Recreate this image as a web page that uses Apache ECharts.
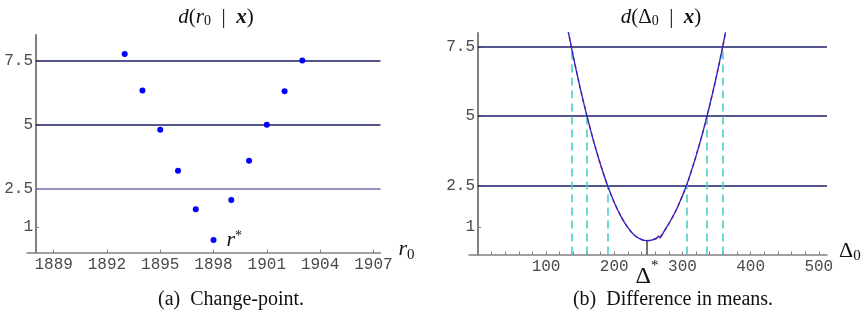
<!DOCTYPE html>
<html><head><meta charset="utf-8">
<script src="https://cdn.jsdelivr.net/npm/echarts@6/dist/echarts.min.js"></script>
<style>html,body{margin:0;padding:0;background:#fff}#c{width:868px;height:314px}</style>
</head><body><div id="c"></div>
<script>
// ---- Left panel data: change-point discrepancy
const years = [1893, 1894, 1895, 1896, 1897, 1898, 1899, 1900, 1901, 1902, 1903];
const changePointValues = [7.76, 6.33, 4.80, 3.20, 1.70, 0.50, 2.06, 3.59, 5.00, 6.30, 7.50];
const rStarYear = 1898;
const yearTicks = [1889, 1892, 1895, 1898, 1901, 1904, 1907];
const valueTicks = [1, 2.5, 5, 7.5];
const levelLines = [2.5, 5, 7.5];

// ---- Right panel data: difference in means
const deltaX = [130, 133, 140, 150, 160, 170, 180, 190, 200, 210, 220, 230, 240, 248, 255, 262, 265, 267, 270, 275, 280, 290, 300, 306, 310, 320, 330, 336, 340, 350, 359, 363, 366];
const deltaBlue = [8.35, 8.0, 7.15, 6.02, 5.0, 4.07, 3.24, 2.5, 1.88, 1.37, 0.97, 0.69, 0.54, 0.50, 0.52, 0.59, 0.66, 0.60, 0.70, 0.92, 1.11, 1.56, 2.12, 2.5, 2.78, 3.56, 4.42, 5.0, 5.39, 6.45, 7.5, 8.0, 8.35];
const deltaRed  = [8.35, 8.0, 7.15, 6.02, 5.0, 4.07, 3.24, 2.5, 1.88, 1.37, 0.97, 0.69, 0.54, 0.50, 0.52, 0.58, 0.62, 0.65, 0.72, 0.90, 1.11, 1.56, 2.12, 2.5, 2.78, 3.56, 4.42, 5.0, 5.39, 6.45, 7.5, 8.0, 8.35];
const deltaStar = 248;
const deltaStarValue = 0.5;
const intervalX = [137, 160, 190, 306, 336, 359];
const intervalLevel = [7.5, 5, 2.5, 2.5, 5, 7.5];
const deltaLabelTicks = [100, 200, 248, 300, 400, 500];
const deltaMinorTicks = [20, 40, 60, 80, 100, 120, 140, 160, 180, 200, 220, 240, 260, 280, 300, 320, 340, 360, 380, 400, 420, 440, 460, 480, 500];

const MONO = 'Liberation Mono';
const SERIF = 'Liberation Serif';
const TXT = '#4a4a4a';
const AXIS = '#808080';
const NAVY = '#1e1e6a';

const chart = echarts.init(document.getElementById('c'), null, {renderer: 'canvas'});

function levelMarkLine(xMin, xMax, colors) {
  return {
    silent: true, symbol: 'none', animation: false,
    label: {show: false},
    data: levelLines.map((v, i) => [
      {coord: [xMin, v], lineStyle: {color: colors[i], width: 1.5, type: 'solid'}},
      {coord: [xMax, v]}
    ])
  };
}

const titleRich = {
  i: {fontFamily: SERIF, fontStyle: 'italic', fontWeight: 'normal', fontSize: 21, color: '#111'},
  n: {fontFamily: SERIF, fontWeight: 'normal', fontSize: 21, color: '#111'},
  b: {fontFamily: SERIF, fontStyle: 'italic', fontWeight: 'bold', fontSize: 21, color: '#111'},
  sub: {fontFamily: SERIF, fontWeight: 'normal', fontSize: 14, color: '#111', verticalAlign: 'bottom', padding: [6, 0, 0, 0]}
};
const captionStyle = {fontFamily: SERIF, fontSize: 20, fontWeight: 'normal', color: '#111'};
const nameRich = {
  i: {fontFamily: SERIF, fontStyle: 'italic', fontWeight: 'normal', fontSize: 22, color: '#111'},
  n: {fontFamily: SERIF, fontWeight: 'normal', fontSize: 22, color: '#111'},
  sub: {fontFamily: SERIF, fontWeight: 'normal', fontSize: 15, color: '#111', verticalAlign: 'bottom', padding: [10, 0, 0, 0]}
};

const option = {
  animation: false,
  backgroundColor: '#fff',
  title: [
    {text: '{i|d}{n|(}{i|r}{sub|0}{n|  |  }{b|x}{n|)}', left: 211, top: 2, textAlign: 'center', textStyle: {fontWeight: 'normal', rich: titleRich}},
    {text: '{i|d}{n|(Δ}{sub|0}{n|  |  }{b|x}{n|)}', left: 656, top: 2, textAlign: 'center', textStyle: {fontWeight: 'normal', rich: titleRich}},
    {text: '(a)  Change-point.', left: 226, top: 285, textAlign: 'center', textStyle: captionStyle},
    {text: '(b)  Difference in means.', left: 668, top: 285, textAlign: 'center', textStyle: captionStyle}
  ],
  grid: [
    {left: 27, width: 353.5, top: 35, height: 217.7, containLabel: false},
    {left: 469, width: 358, top: 33, height: 221.5, containLabel: false}
  ],
  xAxis: [
    {
      gridIndex: 0, type: 'value', min: 1887.5, max: 1907.4,
      name: '{i|r}{sub|0}', nameLocation: 'end', nameGap: 2,
      nameTextStyle: {rich: nameRich, padding: [0, 0, 6, 0]},
      axisLine: {show: true, onZero: false, lineStyle: {color: AXIS, width: 1.5}},
      axisTick: {show: true, inside: true, length: 3, customValues: yearTicks, lineStyle: {color: AXIS}},
      axisLabel: {customValues: yearTicks, fontFamily: MONO, fontSize: 16, color: TXT, margin: 4, formatter: v => String(v)},
      splitLine: {show: false}
    },
    {
      gridIndex: 1, type: 'value', min: -13, max: 512,
      name: '{n|Δ}{sub|0}', nameLocation: 'end', nameGap: 8,
      nameTextStyle: {rich: nameRich, padding: [0, 0, 6, 0]},
      axisLine: {show: true, onZero: false, lineStyle: {color: AXIS, width: 1.5}},
      axisTick: {show: true, inside: true, length: 3, customValues: deltaMinorTicks, lineStyle: {color: AXIS}},
      axisLabel: {
        customValues: deltaLabelTicks, fontFamily: MONO, fontSize: 16, color: TXT, margin: 4,
        formatter: v => v === deltaStar ? '{D|Δ}{s|*}' : String(v),
        rich: {
          D: {fontFamily: SERIF, fontSize: 24, color: '#111', padding: [6, 0, 0, 0]},
          s: {fontFamily: SERIF, fontSize: 15, color: '#111', verticalAlign: 'top'}
        }
      },
      splitLine: {show: false}
    }
  ],
  yAxis: [
    {
      gridIndex: 0, type: 'value', min: 0, max: 8.5, offset: -9,
      axisLine: {show: true, onZero: false, lineStyle: {color: AXIS, width: 2}},
      axisTick: {show: true, inside: true, length: 3, customValues: valueTicks, lineStyle: {color: AXIS}},
      axisLabel: {customValues: valueTicks, fontFamily: MONO, fontSize: 16, color: TXT, margin: 3},
      splitLine: {show: false}
    },
    {
      gridIndex: 1, type: 'value', min: 0, max: 8, offset: -9,
      axisLine: {show: true, onZero: false, lineStyle: {color: AXIS, width: 2}},
      axisTick: {show: true, inside: true, length: 3, customValues: valueTicks, lineStyle: {color: AXIS}},
      axisLabel: {customValues: valueTicks, fontFamily: MONO, fontSize: 16, color: TXT, margin: 3},
      splitLine: {show: false}
    }
  ],
  series: [
    {
      type: 'scatter', xAxisIndex: 0, yAxisIndex: 0, z: 5,
      symbolSize: 6, itemStyle: {color: '#0000ff', opacity: 1},
      data: years.map((y, i) => y === rStarYear ? {
        value: [y, changePointValues[i]],
        label: {show: true, position: 'right', distance: 10,
          formatter: '{r|r}{s|*}',
          rich: {r: {fontFamily: SERIF, fontStyle: 'italic', fontSize: 22, color: '#111'}, s: {fontFamily: SERIF, fontSize: 14, color: '#111', verticalAlign: 'top'}}}
      } : [y, changePointValues[i]]),
      markLine: levelMarkLine(1888, 1907.4, ['#7070a8', NAVY, NAVY])
    },
    {
      type: 'line', xAxisIndex: 1, yAxisIndex: 1, z: 2,
      showSymbol: false, symbol: 'none',
      data: [],
      markLine: levelMarkLine(0, 512, [NAVY, NAVY, NAVY])
    },
    {
      type: 'line', xAxisIndex: 1, yAxisIndex: 1, z: 3,
      showSymbol: false, symbol: 'none',
      data: [],
      markLine: {
        silent: true, symbol: 'none', animation: false, label: {show: false},
        data: intervalX.map((x, i) => [
          {coord: [x, 0], lineStyle: {color: '#45d2c4', width: 1.6, type: [8, 5]}},
          {coord: [x, intervalLevel[i]]}
        ]).concat([[
          {coord: [deltaStar, 0], lineStyle: {color: '#444', width: 1.5, type: 'solid'}},
          {coord: [deltaStar, deltaStarValue]}
        ]])
      }
    },
    {
      type: 'line', xAxisIndex: 1, yAxisIndex: 1, z: 4,
      showSymbol: false, symbol: 'none', smooth: 0.3,
      lineStyle: {color: '#e0506e', width: 1.6, type: [4, 3]},
      data: deltaX.map((x, i) => [x, deltaRed[i]])
    },
    {
      type: 'line', xAxisIndex: 1, yAxisIndex: 1, z: 5,
      showSymbol: false, symbol: 'none', smooth: 0.3,
      lineStyle: {color: '#2a22c8', width: 1.3},
      data: deltaX.map((x, i) => [x, deltaBlue[i]])
    }
  ]
};
chart.setOption(option);
</script>
</body></html>
